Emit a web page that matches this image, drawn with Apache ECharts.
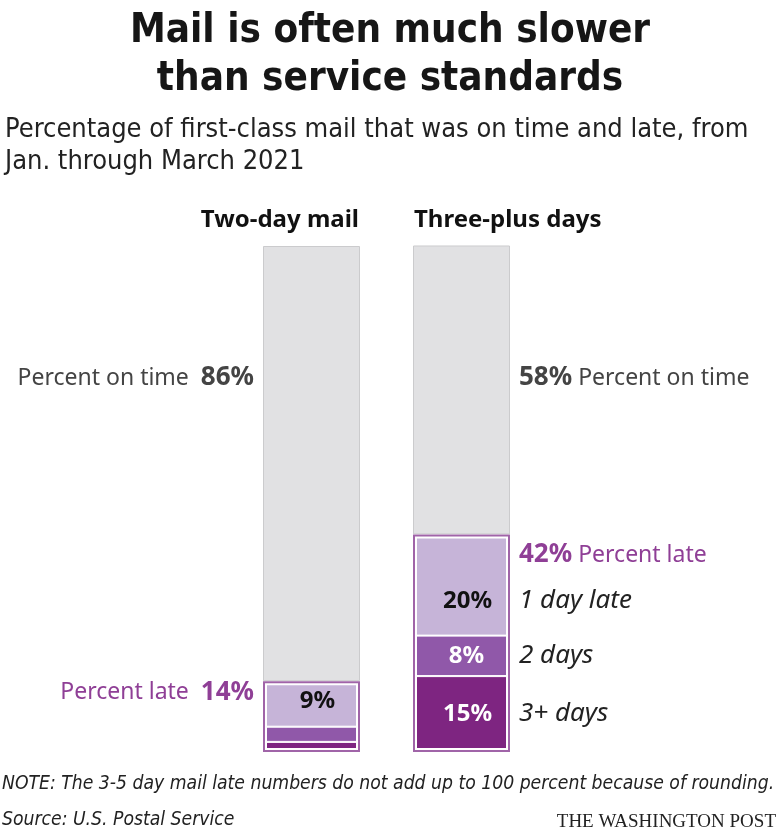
<!DOCTYPE html>
<html>
<head>
<meta charset="utf-8">
<script src="https://cdn.jsdelivr.net/npm/echarts@6/dist/echarts.min.js"></script>
<style>
html,body{margin:0;padding:0;background:#fff;}
#c{width:780px;height:834px;}
</style>
</head>
<body>
<div id="c"></div>
<script>
// ---- data ----
const categories = ['Two-day mail', 'Three-plus days'];
const onTime = [86, 58];
const lateTotal = [14, 42];
const late1Day = [9, 20];
const late2Days = [3, 8];
const late3Days = [2, 15];
const lateLabels = ['1 day late', '2 days', '3+ days'];

const titleText = 'Mail is often much slower\nthan service standards';
const subtitleText = 'Percentage of first-class mail that was on time and late, from\nJan. through March 2021';
const noteText = 'NOTE: The 3-5 day mail late numbers do not add up to 100 percent because of rounding.';
const sourceText = 'Source: U.S. Postal Service';
const creditText = 'THE WASHINGTON POST';

// ---- styles ----
const NARROW = '"DejaVu Sans Condensed","Liberation Sans Narrow","Noto Sans",sans-serif';
const SANS = '"Noto Sans","Open Sans",sans-serif';
const C_GRAY = '#e1e1e3', C_GRAY_B = '#cbcbcd';
const C_L1 = '#c6b4d8', C_L2 = '#9058a9', C_L3 = '#7e2581', C_OUT = '#a064a8';
const C_PURPLE_TXT = '#8f3f96';

const segSum = late1Day.map((v, i) => v + late2Days[i] + late3Days[i]);

function segLabel(showArr, colorArr, offArr) {
  return (v, i) => ({
    value: v,
    label: {
      show: showArr[i], position: 'inside', offset: offArr[i],
      color: colorArr[i], fontFamily: SANS, fontWeight: 'bold', fontSize: 24,
      formatter: v + '%'
    }
  });
}

const BW = 97;
const chart = echarts.init(document.getElementById('c'), null, {renderer: 'canvas'});
const option = {
  animation: false,
  backgroundColor: '#fff',
  grid: {left: 236.5, right: 243.5, top: 246, bottom: 82},
  xAxis: {type: 'category', data: categories, show: false},
  yAxis: {type: 'value', min: 0, max: 100, show: false},
  series: [
    {
      name: '3+ days', type: 'bar', stack: 'a', barWidth: BW,
      data: late3Days.map(segLabel([false, true], ['#fff', '#fff'], [[0, 0], [6, 0]])),
      itemStyle: {color: C_L3, borderColor: '#fff', borderWidth: 1}
    },
    {
      name: '2 days', type: 'bar', stack: 'a', barWidth: BW,
      data: late2Days.map(segLabel([false, true], ['#fff', '#fff'], [[0, 0], [5, 0]])),
      itemStyle: {color: C_L2, borderColor: '#fff', borderWidth: 1}
    },
    {
      name: '1 day late', type: 'bar', stack: 'a', barWidth: BW,
      data: late1Day.map(segLabel([true, true], ['#111', '#111'], [[6, -3], [6, 16]])),
      itemStyle: {color: C_L1, borderColor: '#fff', borderWidth: 1}
    },
    {
      name: 'On time', type: 'bar', stack: 'a', barWidth: BW,
      data: onTime,
      itemStyle: {color: C_GRAY, borderColor: C_GRAY_B, borderWidth: 1}
    },
    {
      name: 'Late gap', type: 'bar', stack: 'g', barWidth: BW, barGap: '-100%', z: 4,
      data: segSum,
      itemStyle: {color: 'rgba(0,0,0,0)', borderColor: '#fff', borderWidth: 4},
      silent: true
    },
    {
      name: 'Late outline', type: 'bar', stack: 'b', barWidth: BW, barGap: '-100%', z: 5,
      data: segSum,
      itemStyle: {color: 'rgba(0,0,0,0)', borderColor: C_OUT, borderWidth: 2},
      silent: true
    }
  ]
};
chart.setOption(option);

function px(i, v) { return chart.convertToPixel({gridIndex: 0}, [i, v]); }
const halfW = BW / 2;
const x0L = px(0, 0)[0] - halfW;   // left edge bar 1
const x0R = px(0, 0)[0] + halfW;   // right edge bar 1
const x1L = px(1, 0)[0] - halfW;   // left edge bar 2
const x1R = px(1, 0)[0] + halfW;   // right edge bar 2

const g = [];
function txt(x, y, text, font, fill, align, vAlign, rich) {
  const el = {type: 'text', x: x, y: y, style: {text: text, font: font, fill: fill, align: align, verticalAlign: vAlign || 'middle'}};
  if (rich) el.style.rich = rich;
  g.push(el);
  return el;
}

// title & subtitle
txt(390, 8, titleText, 'bold 40px ' + NARROW, '#161616', 'center', 'top').style.lineHeight = 48;
txt(5, 114, subtitleText, '27px ' + NARROW, '#222', 'left', 'top').style.lineHeight = 32;

// column headers
txt(x0R - 1, 220, categories[0], 'bold 24px ' + SANS, '#111', 'right', 'middle');
txt(x1L + 1, 220, categories[1], 'bold 24px ' + SANS, '#111', 'left', 'middle');

const richGray = {a: {font: '23px ' + SANS, fill: '#444'}, b: {font: 'bold 26px ' + SANS, fill: '#444'}};
const richPurple = {a: {font: '23px ' + SANS, fill: C_PURPLE_TXT}, b: {font: 'bold 26px ' + SANS, fill: C_PURPLE_TXT}};

// on-time annotations
const yOn = 378;
txt(x0L - 9, yOn, '{a|Percent on time}  {b|' + onTime[0] + '%}', '23px ' + SANS, '#444', 'right', 'middle', richGray);
txt(x1R + 9, yOn, '{b|' + onTime[1] + '%} {a|Percent on time}', '23px ' + SANS, '#444', 'left', 'middle', richGray);

// late annotations
const yLate0 = px(0, segSum[0])[1] + 11;
txt(x0L - 9, yLate0, '{a|Percent late}  {b|' + lateTotal[0] + '%}', '23px ' + SANS, C_PURPLE_TXT, 'right', 'middle', richPurple);
const yLate1 = 555;
txt(x1R + 9, yLate1, '{b|' + lateTotal[1] + '%} {a|Percent late}', '23px ' + SANS, C_PURPLE_TXT, 'left', 'middle', richPurple);

// segment annotations for three-plus bar
const b1 = late3Days[1], b2 = b1 + late2Days[1], b3 = b2 + late1Day[1];
const yc = [px(1, (b2 + b3) / 2)[1] + 16, px(1, (b1 + b2) / 2)[1], px(1, b1 / 2)[1]];
lateLabels.forEach((t, k) => {
  txt(x1R + 9, yc[k], t, 'italic 26px ' + SANS, '#222', 'left', 'middle');
});

// footer
txt(2, 784, noteText, 'italic 19.2px ' + NARROW, '#222', 'left', 'middle');
txt(2, 820, sourceText, 'italic 19.2px ' + NARROW, '#222', 'left', 'middle');
txt(776, 822, creditText, '19px "Liberation Serif","DejaVu Serif",serif', '#222', 'right', 'middle');

chart.setOption({graphic: g});
</script>
</body>
</html>
